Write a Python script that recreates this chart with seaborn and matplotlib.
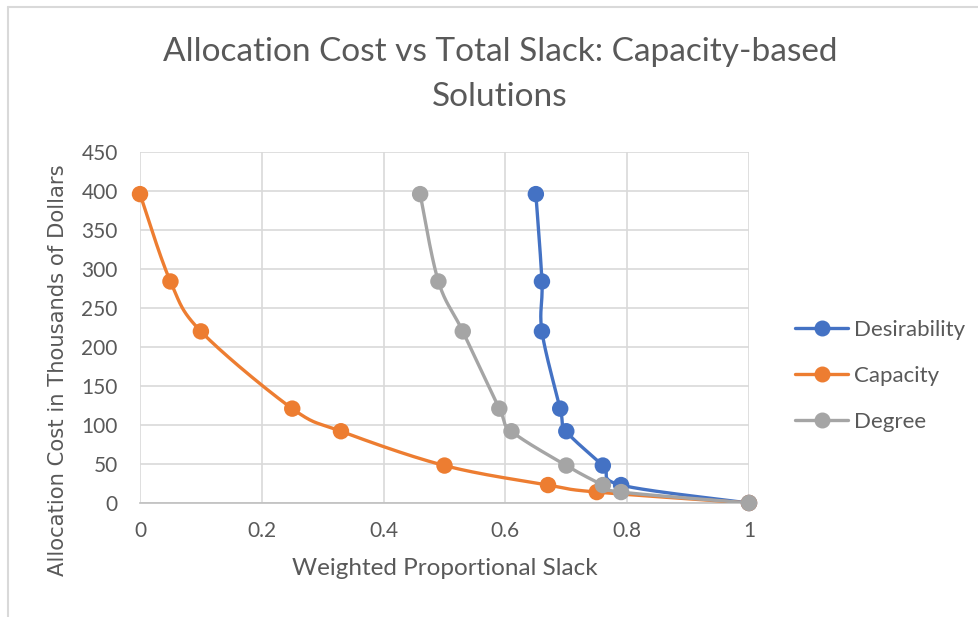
import numpy as np
import pandas as pd
import matplotlib
matplotlib.use("Agg")
import matplotlib.pyplot as plt
import seaborn as sns
from matplotlib.lines import Line2D

# Solution sets: weighted proportional slack (x) vs allocation cost in $K (y)
desirability_slack = [0.65, 0.66, 0.66, 0.69, 0.70, 0.76, 0.79, 1.0]
desirability_cost = [396, 284, 220, 121, 92, 48, 23, 0]

capacity_slack = [0.0, 0.05, 0.10, 0.25, 0.33, 0.50, 0.67, 0.75, 1.0]
capacity_cost = [396, 284, 220, 121, 92, 48, 23, 14, 0]

degree_slack = [0.46, 0.49, 0.53, 0.59, 0.61, 0.70, 0.76, 0.79, 1.0]
degree_cost = [396, 284, 220, 121, 92, 48, 23, 14, 0]

series_names = ["Desirability", "Capacity", "Degree"]
series_colors = ["#4472C4", "#ED7D31", "#A5A5A5"]

x_ticks = [0, 0.2, 0.4, 0.6, 0.8, 1]
x_tick_labels = ["0", "0.2", "0.4", "0.6", "0.8", "1"]
y_ticks = [0, 50, 100, 150, 200, 250, 300, 350, 400, 450]

sns.set_style("white")
plt.rcParams["font.family"] = ["Lato", "DejaVu Sans"]

W, H = 979, 617
fig = plt.figure(figsize=(W / 100, H / 100), dpi=100)
fig.patch.set_facecolor("white")

# chart frame (left and top edges)
fig.add_artist(Line2D([8.5 / W, 8.5 / W], [0, 1 - 6.5 / H], transform=fig.transFigure,
                      color="#d9d9d9", lw=1.5))
fig.add_artist(Line2D([8.5 / W, 1], [1 - 6.5 / H, 1 - 6.5 / H], transform=fig.transFigure,
                      color="#d9d9d9", lw=1.5))

ax = fig.add_axes([140 / W, 1 - 503 / H, (749 - 140) / W, (503 - 152) / H])
ax.set_xlim(0, 1)
ax.set_ylim(0, 450)

# aspect scaling so the smoothing works in screen proportions
sx, sy = 609.0, 351.0 / 450.0


def smooth(xs, ys, n=40):
    """Cubic Bezier smoothing through every point (Catmull-Rom style)."""
    px = np.asarray(xs, float) * sx
    py = np.asarray(ys, float) * sy
    pts = np.column_stack([px, py])
    out = [pts[0]]
    m = len(pts)
    for i in range(m - 1):
        p0 = pts[i - 1] if i > 0 else pts[i]
        p1 = pts[i]
        p2 = pts[i + 1]
        p3 = pts[i + 2] if i + 2 < m else pts[i + 1]
        c1 = p1 + (p2 - p0) / 6.0
        c2 = p2 - (p3 - p1) / 6.0
        t = np.linspace(0, 1, n)[1:, None]
        seg = ((1 - t) ** 3) * p1 + 3 * ((1 - t) ** 2) * t * c1 + 3 * (1 - t) * t ** 2 * c2 + t ** 3 * p2
        out.extend(seg)
    out = np.array(out)
    return out[:, 0] / sx, out[:, 1] / sy


for v in y_ticks:
    ax.axhline(v, color="#d9d9d9", lw=1.2, zorder=0)
for v in x_ticks:
    ax.axvline(v, color="#d9d9d9", lw=1.2, zorder=0)

data = [(desirability_slack, desirability_cost),
        (capacity_slack, capacity_cost),
        (degree_slack, degree_cost)]

for k, ((xs, ys), name, col) in enumerate(zip(data, series_names, series_colors)):
    cx, cy = smooth(xs, ys)
    curve = pd.DataFrame({"slack": cx, "cost": cy})
    sns.lineplot(data=curve, x="slack", y="cost", sort=False, estimator=None,
                 color=col, lw=2.4, ax=ax, zorder=3 + 2 * k,
                 solid_capstyle="round")
    pts = pd.DataFrame({"slack": xs, "cost": ys})
    sns.scatterplot(data=pts, x="slack", y="cost", color=col, s=140,
                    edgecolor="none", ax=ax, zorder=4 + 2 * k, clip_on=False)

for s in ["top", "right", "left"]:
    ax.spines[s].set_visible(False)
ax.spines["bottom"].set_color("#bfbfbf")
ax.spines["bottom"].set_linewidth(1.2)

ax.set_xticks(x_ticks)
ax.set_xticklabels(x_tick_labels)
ax.set_yticks(y_ticks)
ax.tick_params(axis="both", length=0, labelsize=15, colors="#595959")
ax.tick_params(axis="x", pad=13)
ax.tick_params(axis="y", pad=16)

ax.set_xlabel("Weighted Proportional Slack", fontsize=17.5, color="#595959", labelpad=12)
ax.set_ylabel("Allocation Cost in Thousands of Dollars", fontsize=15.2, color="#595959",
              family=["DejaVu Sans"])
ax.yaxis.set_label_coords((68 - 140) / 609, (503 - 370) / 351)

fig.text(500 / W, 1 - 52 / H, "Allocation Cost vs Total Slack: Capacity-based",
         ha="center", va="center", fontsize=24, color="#595959")
fig.text(500 / W, 1 - 97 / H, "Solutions", ha="center", va="center",
         fontsize=24, color="#595959")

handles = [Line2D([0], [0], color=c, lw=2.4, marker="o", markersize=10.5)
           for c in series_colors]
fig.legend(handles, series_names, loc="upper left", bbox_to_anchor=(775 / W, 1 - 300 / H),
           frameon=False, fontsize=16, labelcolor="#595959", handlelength=2.4,
           handletextpad=0.25, labelspacing=1.16)

fig.savefig("out.png", dpi=100, facecolor="white")
